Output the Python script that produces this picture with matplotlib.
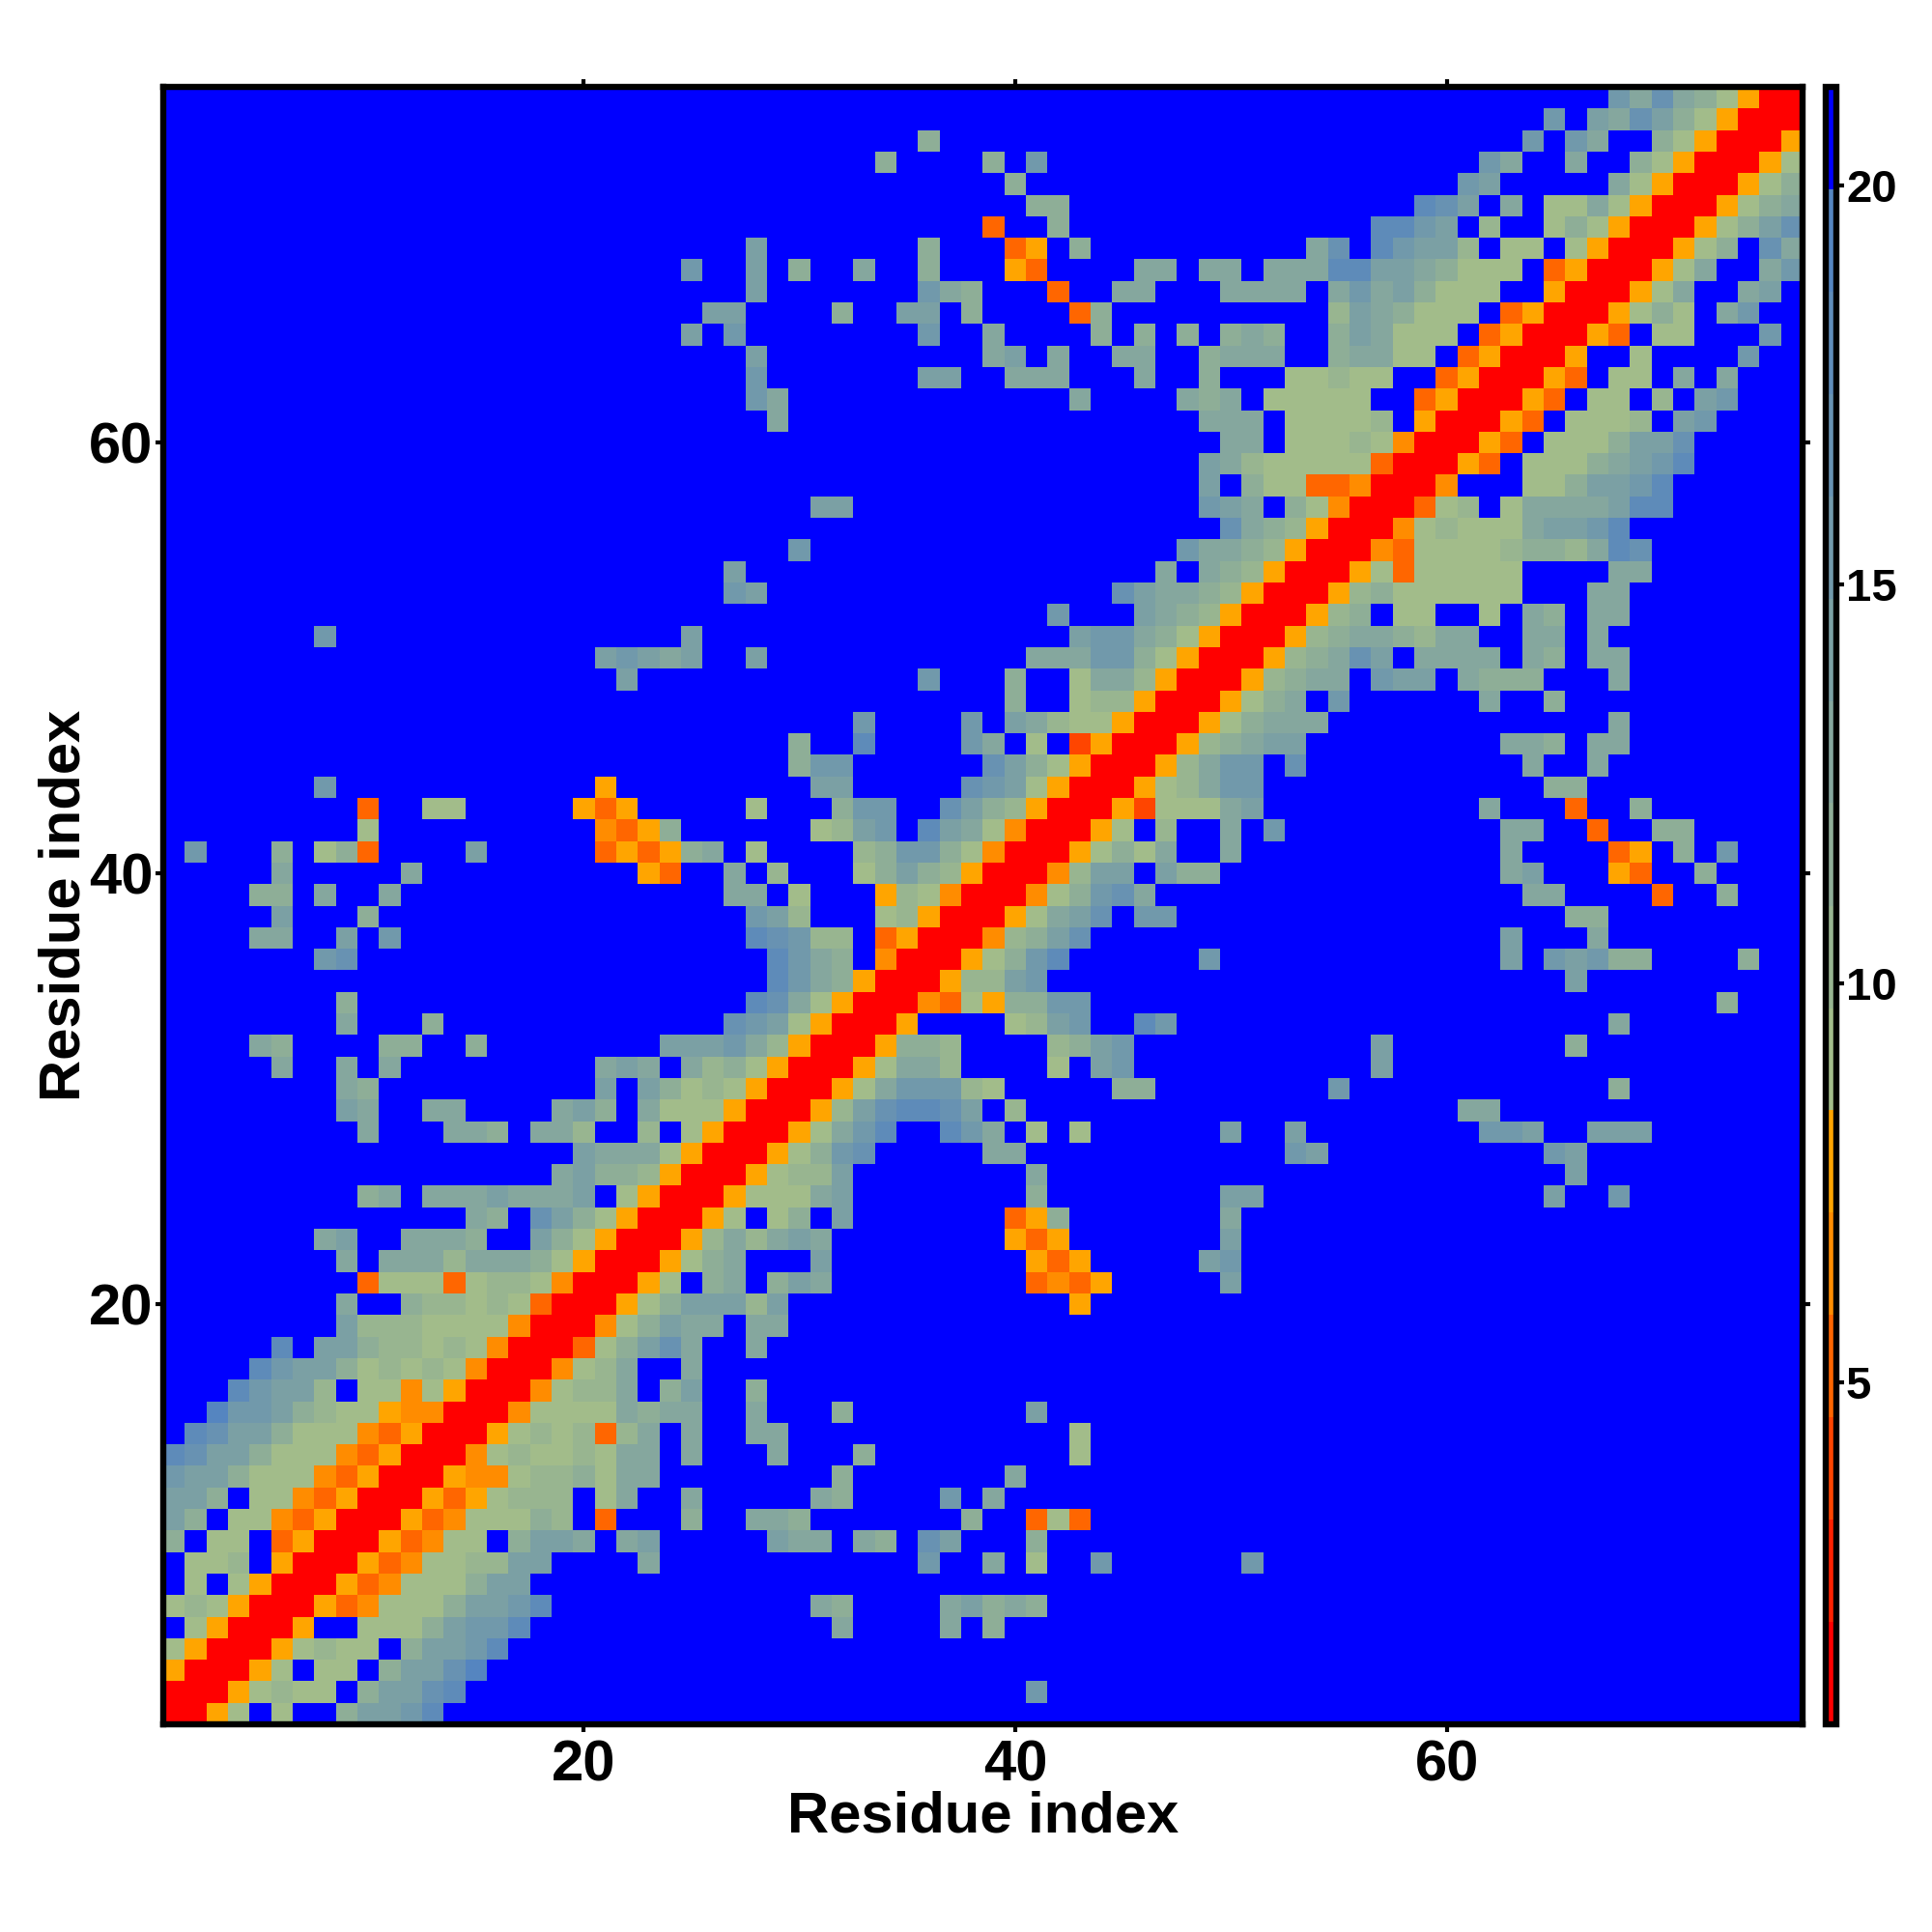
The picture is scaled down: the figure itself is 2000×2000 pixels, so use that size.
import numpy as np
import matplotlib
matplotlib.use("Agg")
import matplotlib.pyplot as plt
from matplotlib.colors import ListedColormap, BoundaryNorm, to_rgb

plt.rcParams['font.family'] = ['Liberation Sans', 'DejaVu Sans']
plt.rcParams['font.weight'] = 'bold'

n_residues = 76
tick_residues = [20, 40, 60]
cbar_ticks = [5, 10, 15, 20]
axis_label = "Residue index"

# distance bin edges of the colour bar
bin_edges = [0.72, 2.0, 3.28, 4.57, 5.85, 7.13, 8.41, 9.69, 10.97, 12.26,
             13.54, 14.82, 16.1, 17.38, 18.66, 19.95, 21.23]

# symbol read off a cell -> estimated distance
code_values = {'R': 1.4, 'F': 3.9, 'O': 5.2, 'o': 6.5, 'y': 7.8,
               '1': 9.0, '2': 10.3, '3': 11.6, '4': 12.9, '5': 14.2,
               '6': 15.4, '7': 16.7, '8': 18.0, '9': 19.3, '.': 21.0}

# upper triangle of the symmetric map: (first residue, symbols from there on), blue elsewhere
row_01 = [(1, "RRy1.1..35568")]
row_02 = [(2, "RRy1211.35578"), (41, "6")]
row_03 = [(3, "RRy1.11.35579")]
row_04 = [(4, "RRy1211.35568")]
row_05 = [(5, "RRy..11135668"), (32, "4"), (37, "4"), (39, "3")]
row_06 = [(6, "RRyOo11135568"), (31, "43"), (37, "45343")]
row_07 = [(7, "RRyOo111355")]
row_08 = [(8, "RRyOo112255"), (23, "4"), (36, "6"), (39, "4"), (41, "1"), (44, "6"), (51, "6")]
row_09 = [(9, "RRyOo11.355"), (20, "4.45"), (29, "544"), (33, "43"), (36, "75"), (41, "3")]
row_10 = [(10, "RRyOo11132"), (21, "O"), (25, "3"), (28, "443"), (38, "3"), (41, "O1O")]
row_11 = [(11, "RRyOy1222"), (21, "14"), (25, "4"), (31, "43"), (37, "6"), (39, "4")]
row_12 = [(12, "RRyoo1223144"), (32, "3"), (40, "4")]
row_13 = [(13, "RRo12112144.4"), (29, "4"), (33, "3"), (43, "1")]
row_14 = [(14, "RRy1212O24.4"), (28, "44"), (43, "1")]
row_15 = [(15, "RRo11114344"), (28, "4"), (32, "3"), (41, "5")]
row_16 = [(16, "RRo1224.35"), (28, "3")]
row_17 = [(17, "RRo124..4")]
row_18 = [(18, "RRO13574"), (28, "4")]
row_19 = [(19, "RRo13544.44")]
row_20 = [(20, "RRy1355525"), (43, "y")]
row_21 = [(21, "RRy1.34.354"), (41, "OoOy"), (50, "5")]
row_22 = [(22, "RRy134...5"), (41, "yOy"), (49, "56")]
row_23 = [(23, "RRy242454"), (40, "yOy"), (50, "5")]
row_24 = [(24, "RRy1.13.5"), (40, "Oy3"), (50, "4")]
row_25 = [(25, "RRy11145"), (41, "3"), (50, "55"), (65, "5"), (68, "6")]
row_26 = [(26, "RRy1225"), (41, "4"), (66, "5")]
row_27 = [(27, "RRy1367"), (39, "44"), (53, "65"), (65, "65")]
row_28 = [(28, "RRy1468..864.1.1"), (50, "5"), (53, "5"), (62, "665"), (67, "555")]
row_29 = [(29, "RRy2578875"), (40, "2"), (61, "44")]
row_30 = [(30, "RRy1466621"), (45, "33"), (55, "6"), (68, "3")]
row_31 = [(31, "RRy1442"), (42, "1.56"), (57, "5")]
row_32 = [(32, "RRy332"), (42, "2356"), (57, "5"), (66, "3")]
row_33 = [(33, "RRy"), (40, "1256"), (46, "86"), (68, "4")]
row_34 = [(34, "RRoO1y3366"), (73, "3")]
row_35 = [(35, "RRy2256"), (66, "5")]
row_36 = [(36, "RRy1368"), (49, "6"), (63, "5"), (65, "65633"), (74, "3")]
row_37 = [(37, "RRo2357"), (63, "5"), (67, "4")]
row_38 = [(38, "RRy1457.66"), (66, "33")]
row_39 = [(39, "RRo13674"), (64, "44"), (70, "O"), (73, "3")]
row_40 = [(40, "RRo255.533"), (63, "45"), (68, "yO"), (72, "3")]
row_41 = [(41, "RRy1314..4"), (63, "4"), (68, "Oy"), (71, "3"), (73, "6")]
row_42 = [(42, "RRy1.2..4.6"), (63, "44"), (67, "O"), (70, "33")]
row_43 = [(43, "RRyF11145"), (62, "4"), (66, "O"), (69, "3")]
row_44 = [(44, "RRy12466"), (65, "33")]
row_45 = [(45, "RRy2466.7"), (64, "4"), (67, "4")]
row_46 = [(46, "RRy23455"), (63, "443"), (67, "44")]
row_47 = [(47, "RRy13444"), (68, "4")]
row_48 = [(48, "RRy134.6"), (62, "4"), (65, "3")]
row_49 = [(49, "RRy2344.655.4333...4")]
row_50 = [(50, "RRy23475.4444.43.44")]
row_51 = [(51, "RRy23443244..44.4")]
row_52 = [(52, "RRy23.11..1.43.44")]
row_53 = [(53, "RRy23111111...44")]
row_54 = [(54, "RRy1O11111....44")]
row_55 = [(55, "RRoO11112332487")]
row_56 = [(56, "RRo1211145568")]
row_57 = [(57, "RRO12.14444588")]
row_58 = [(58, "RRo...1135568")]
row_59 = [(59, "RRyO.11134568")]
row_60 = [(60, "RRyO.1113557")]
row_61 = [(61, "RRyO.1112.56")]
row_62 = [(62, "RRyO.11.2.56")]
row_63 = [(63, "RRyO.11.4.4")]
row_64 = [(64, "RRy..1....6")]
row_65 = [(65, "RRyO.11...6")]
row_66 = [(66, "RRy131.46")]
row_67 = [(67, "RRy14..45")]
row_68 = [(68, "RRy14..46")]
row_69 = [(69, "RRy13.74")]
row_70 = [(70, "RRy1357")]
row_71 = [(71, "RRy134")]
row_72 = [(72, "RRy13")]
row_73 = [(73, "RRy1")]
row_74 = [(74, "RRy")]
row_75 = [(75, "RR")]
row_76 = [(76, "R")]

rows = [row_01, row_02, row_03, row_04, row_05, row_06, row_07, row_08, row_09, row_10,
        row_11, row_12, row_13, row_14, row_15, row_16, row_17, row_18, row_19, row_20,
        row_21, row_22, row_23, row_24, row_25, row_26, row_27, row_28, row_29, row_30,
        row_31, row_32, row_33, row_34, row_35, row_36, row_37, row_38, row_39, row_40,
        row_41, row_42, row_43, row_44, row_45, row_46, row_47, row_48, row_49, row_50,
        row_51, row_52, row_53, row_54, row_55, row_56, row_57, row_58, row_59, row_60,
        row_61, row_62, row_63, row_64, row_65, row_66, row_67, row_68, row_69, row_70,
        row_71, row_72, row_73, row_74, row_75, row_76]

dist = np.full((n_residues, n_residues), code_values['.'])
for i, segs in enumerate(rows):
    for start, codes in segs:
        for k, c in enumerate(codes):
            j = start - 1 + k
            dist[i, j] = code_values[c]
            dist[j, i] = code_values[c]

# colours
warm = ['#ff0000', '#ff2200', '#ff4500', '#ff6600', '#ff8c00', '#ffa500']
c0, c1 = np.array(to_rgb('#a2bc8a')), np.array(to_rgb('#5585c0'))
mid = [tuple(c0 + (c1 - c0) * t / 8) for t in range(9)]
cmap = ListedColormap(warm + mid + ['#0000ff'])
norm = BoundaryNorm(bin_edges, cmap.N)

fig = plt.figure(figsize=(10, 10), dpi=200)
W = H = 2000.0
ax = fig.add_axes([169 / W, 1 - 1785 / H, (1866 - 169) / W, (1785 - 90) / H])
im = ax.imshow(dist, origin='lower', cmap=cmap, norm=norm, aspect='auto',
               interpolation='nearest', extent=[0.5, n_residues + 0.5, 0.5, n_residues + 0.5])
ax.set_xticks(tick_residues)
ax.set_yticks(tick_residues)
ax.tick_params(axis='both', which='major', direction='out', length=3, width=1.5,
               top=True, right=True, labelsize=21.5)
ax.tick_params(axis='x', pad=2.7)
ax.tick_params(axis='y', pad=0.7)
for s in ax.spines.values():
    s.set_linewidth(2.3)
ax.set_xlabel(axis_label, fontsize=21.5, fontweight='bold', labelpad=-0.7)
ax.set_ylabel(axis_label, fontsize=21.5, fontweight='bold', labelpad=-0.7)

cax = fig.add_axes([1890 / W, 1 - 1785 / H, (1901 - 1890) / W, (1785 - 90) / H])
cb = fig.colorbar(im, cax=cax, ticks=cbar_ticks, spacing='proportional', drawedges=False)
cb.outline.set_linewidth(2.3)
cb.ax.minorticks_off()
cb.ax.tick_params(direction='out', length=3, width=1.5, labelsize=17, pad=0.6)
for t in cb.ax.get_yticklabels():
    t.set_fontweight('bold')

fig.savefig('out.png', dpi=200, facecolor='white')
